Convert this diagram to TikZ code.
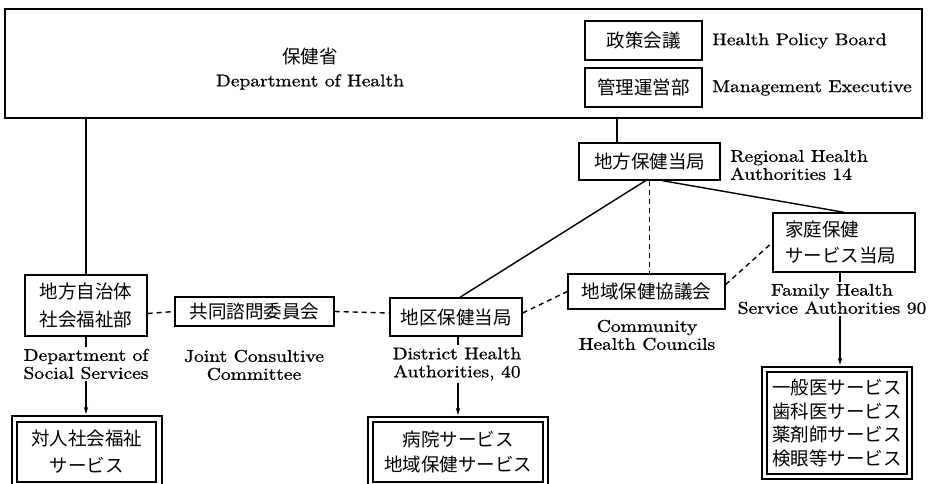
\documentclass[tikz,border=0pt]{standalone}
\usepackage{fontspec}
\newfontfamily\jp{Noto Sans CJK JP}
\newfontfamily\lat{lmroman10-regular.otf}[FakeStretch=1.15,FakeBold=0.8]
\usetikzlibrary{arrows.meta}
\newcommand\jpf{\jp\fontsize{18.5}{28}\selectfont}
\newcommand\latf{\lat\fontsize{17}{18}\selectfont}
\begin{document}
\begin{tikzpicture}[x=1pt,y=-1pt,
  box/.style={draw,line width=1.4pt,inner sep=0pt,font=\jpf,align=center},
  frame/.style={draw,line width=1.4pt,inner sep=0pt},
  jptext/.style={inner sep=0pt,font=\jpf},
  lattext/.style={inner sep=0pt,font=\latf},
  lab/.style={fill=white,inner xsep=1pt,inner ysep=2pt,font=\latf,align=center},
  conn/.style={line width=1.4pt},
  dashline/.style={line width=1.4pt,dash pattern=on 5pt off 4pt},
  arr/.style={line width=1.4pt,-{Latex[length=8pt,width=4.5pt]}}]
\useasboundingbox (0,0) rectangle (929,484);
% Department of Health
\node[frame,minimum width=917pt,minimum height=109pt] (dh) at (463.5,63.5) {};
\node[jptext] (dhj) at (310,56) {保健省};
\node[lattext] (dhe) at (310,82) {Department of Health};
\node[box,minimum width=117pt,minimum height=39pt] (hpb) at (643.5,40.5) {政策会議};
\node[box,minimum width=117pt,minimum height=39pt] (me) at (643.5,87.5) {管理運営部};
\node[lattext,anchor=west] (hpbl) at (712,41) {Health Policy Board};
\node[lattext,anchor=west] (mel) at (712,88) {Management Executive};
% Regional
\node[box,minimum width=141pt,minimum height=37pt] (rha) at (649.5,161.5) {地方保健当局};
\node[lattext,anchor=west,align=left] (rhal) at (730,165) {Regional Health\\Authorities 14};
% second row
\node[box,minimum width=122pt,minimum height=61pt] (lg) at (86,305.5) {地方自治体\\社会福祉部};
\node[box,minimum width=159pt,minimum height=29pt] (jcc) at (254.5,311.5) {共同諮問委員会};
\node[box,minimum width=132pt,minimum height=38pt] (dha) at (456,317) {地区保健当局};
\node[box,minimum width=157pt,minimum height=35pt] (chc) at (646.5,291.5) {地域保健協議会};
\node[box,minimum height=59pt,inner xsep=12pt,text width=118pt,align=left,font=\jp\fontsize{18.5}{26}\selectfont] (fhsa) at (844,242.5) {家庭保健\\サービス当局};
% service boxes
\node[frame,minimum width=150pt,minimum height=71pt] (s1o) at (87,451.5) {};
\node[box,minimum width=139pt,minimum height=60pt,font=\jp\fontsize{18.5}{27}\selectfont] (s1) at (86.5,452) {対人社会福祉\\サービス};
\node[frame,minimum width=180pt,minimum height=73pt] (s2o) at (458,453.5) {};
\node[box,minimum width=170pt,minimum height=60pt,font=\jp\fontsize{18.5}{25}\selectfont] (s2) at (458,452) {病院サービス\\地域保健サービス};
\node[frame,minimum width=150pt,minimum height=112pt] (s3o) at (837,423) {};
\node[box,minimum width=140pt,minimum height=102pt,align=left,font=\jp\fontsize{18.5}{23.5}\selectfont] (s3) at (837,423) {一般医サービス\\歯科医サービス\\薬剤師サービス\\検眼等サービス};
% connectors
\draw[conn] (dh.south -| lg.north) -- (lg.north);
\draw[conn] ([xshift=-32.5pt]rha.north |- dh.south) -- ([xshift=-32.5pt]rha.north);
\draw[conn] ([xshift=-4pt]rha.south) -- ([xshift=4pt]dha.north);
\draw[conn] ([xshift=13pt]rha.south) -- (fhsa.north);
\draw[dashline] (rha.south) -- (rha.south |- chc.north);
\draw[dashline] ([yshift=-8pt]lg.east) -- (jcc.west);
\draw[dashline] (jcc.east) -- ([yshift=4pt]dha.west);
\draw[dashline] ([yshift=4pt]dha.east) -- (chc.west);
\draw[dashline] ([yshift=7pt]chc.east) -- (fhsa.west);
\draw[arr] (lg.south) -- (lg.south |- s1o.north);
\draw[arr] ([xshift=2pt]dha.south) -- ([xshift=2pt]dha.south |- s2o.north);
\draw[arr] ([xshift=-4pt]fhsa.south) -- ([xshift=-4pt]fhsa.south |- s3o.north);
% labels
\node[lab] (lgl) at (86,364) {Department of\\Social Services};
\node[lab] (jccl) at (254,365) {Joint Consultive\\Committee};
\node[lab] (dhal) at (457,364) {District Health\\Authorities, 40};
\node[lab] (chcl) at (647,335) {Community\\Health Councils};
\node[lab] (fhsal) at (832,299) {Family Health\\Service Authorities 90};
\end{tikzpicture}
\end{document}
